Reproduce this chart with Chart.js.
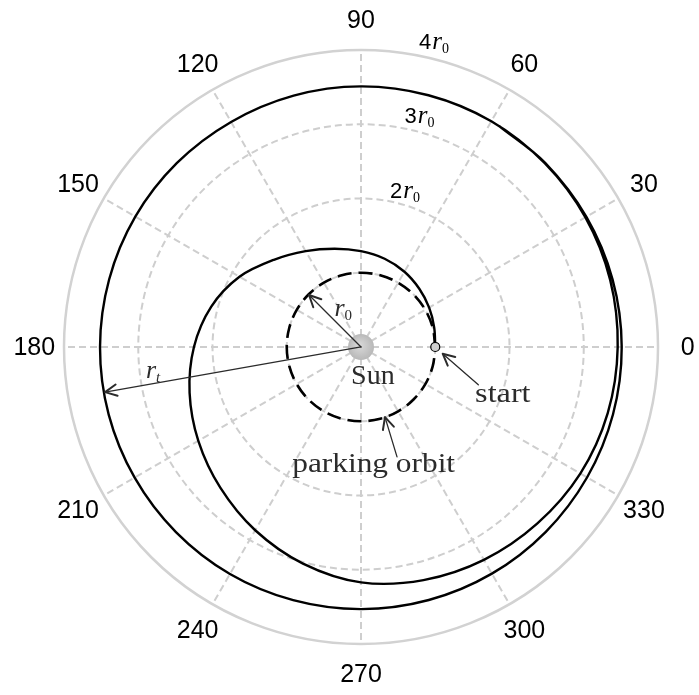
<!DOCTYPE html>
<html>
<head>
<meta charset="utf-8">
<script src="https://cdn.jsdelivr.net/npm/chart.js@4"></script>
<style>
  html, body { margin: 0; padding: 0; background: #ffffff; }
  canvas { display: block; }
</style>
</head>
<body>
<canvas id="orbit" width="699" height="695"></canvas>
<script>
// ---- data (angles in degrees, radii in units of the parking-orbit radius r0) ----

// Low-thrust transfer spiral, angle unwrapped over the revolutions
const trajTheta = [
  0, 15, 30, 45, 60, 75, 90, 105, 120, 135, 150, 165, 180,
  195, 210, 225, 240, 255, 270, 285, 300, 315, 330, 345, 360,
  375, 390, 405, 420, 435, 450, 465, 480, 495, 510, 525, 540,
  555, 570, 585, 600, 615, 630, 645, 660, 675, 690, 705, 720,
  735, 750, 765, 778
];
const trajR = [
  1.00, 1.02, 1.06, 1.11, 1.17, 1.23, 1.29, 1.37, 1.49, 1.66, 1.89, 2.09, 2.25,
  2.39, 2.53, 2.68, 2.85, 3.02, 3.17, 3.25, 3.31, 3.36, 3.41, 3.44, 3.457,
  3.475, 3.49, 3.50, 3.51, 3.51, 3.51, 3.505, 3.50, 3.505, 3.51, 3.512, 3.515,
  3.518, 3.52, 3.525, 3.53, 3.53, 3.53, 3.528, 3.525, 3.52, 3.515, 3.513, 3.511,
  3.508, 3.505, 3.507, 3.51
];

// Circular parking orbit
const parkTheta = [0, 15, 30, 45, 60, 75, 90, 105, 120, 135, 150, 165, 180,
  195, 210, 225, 240, 255, 270, 285, 300, 315, 330, 345, 360];
const parkR = [1, 1, 1, 1, 1, 1, 1, 1, 1, 1, 1, 1, 1,
  1, 1, 1, 1, 1, 1, 1, 1, 1, 1, 1, 1];

// Departure point and the Sun
const startTheta = [0];
const startR = [1];
const sunTheta = [0];
const sunR = [0];

// Polar frame: angular ticks and radial rings
const angleTicks = [0, 30, 60, 90, 120, 150, 180, 210, 240, 270, 300, 330];
const angleTickLabels = ['0', '30', '60', '90', '120', '150', '180', '210', '240', '270', '300', '330'];
const ringValues = [1, 2, 3];
const outerRing = 4;
const ringLabelValues = [2, 3, 4];
const ringLabelNumbers = ['2', '3', '4'];

// Radius of the final orbit and the direction along which it is marked
const transferR = 3.5;
const transferTheta = 190;

// ---- helpers ----
const rad = d => d * Math.PI / 180;
const toXY = (t, r) => ({ x: r * Math.cos(rad(t)), y: r * Math.sin(rad(t)) });
const polarPoints = (ts, rs) => ts.map((t, i) => toXY(t, rs[i]));

function px(chart, p) {
  return { x: chart.scales.x.getPixelForValue(p.x), y: chart.scales.y.getPixelForValue(p.y) };
}

function drawArrow(ctx, a, b, shaftW, headW, headLen, color) {
  const ang = Math.atan2(b.y - a.y, b.x - a.x);
  ctx.save();
  ctx.strokeStyle = color;
  ctx.lineCap = 'round';
  ctx.lineJoin = 'round';
  ctx.lineWidth = shaftW;
  ctx.beginPath();
  ctx.moveTo(a.x, a.y);
  ctx.lineTo(b.x, b.y);
  ctx.stroke();
  ctx.lineWidth = headW;
  const spread = rad(26);
  ctx.beginPath();
  ctx.moveTo(b.x - headLen * Math.cos(ang - spread), b.y - headLen * Math.sin(ang - spread));
  ctx.lineTo(b.x, b.y);
  ctx.lineTo(b.x - headLen * Math.cos(ang + spread), b.y - headLen * Math.sin(ang + spread));
  ctx.stroke();
  ctx.restore();
}

// italic r with a subscript, centred on (x, y)
function drawRSymbol(ctx, x, y, sub, color) {
  ctx.save();
  ctx.fillStyle = color;
  ctx.textBaseline = 'alphabetic';
  const subFont = (sub === '0' ? '' : 'italic ') + '15px "Liberation Serif"';
  ctx.font = 'italic 26px "Liberation Serif"';
  const wr = ctx.measureText('r').width;
  ctx.font = subFont;
  const ws = ctx.measureText(sub).width;
  const x0 = x - (wr + ws) / 2;
  ctx.font = 'italic 26px "Liberation Serif"';
  ctx.fillText('r', x0, y + 6);
  ctx.font = subFont;
  ctx.fillText(sub, x0 + wr, y + 10);
  ctx.restore();
}

// serif annotation text, widened slightly
function drawNote(ctx, text, x, y, sx, color) {
  ctx.save();
  ctx.fillStyle = color;
  ctx.font = '28px "Liberation Serif"';
  ctx.textAlign = 'center';
  ctx.textBaseline = 'middle';
  ctx.translate(x, y);
  ctx.scale(sx, 1);
  ctx.fillText(text, 0, 0);
  ctx.restore();
}

// ---- polar frame drawn beneath the curves ----
const polarFrame = {
  id: 'polarFrame',
  beforeDatasetsDraw(chart) {
    const ctx = chart.ctx;
    const c = px(chart, { x: 0, y: 0 });
    const unit = chart.scales.x.getPixelForValue(1) - c.x;
    ctx.save();
    ctx.strokeStyle = '#cecece';
    ctx.lineWidth = 2;
    ctx.setLineDash([7, 4]);
    ringValues.forEach(r => {
      ctx.beginPath();
      ctx.arc(c.x, c.y, r * unit, 0, 2 * Math.PI);
      ctx.stroke();
    });
    angleTicks.forEach(t => {
      const e = px(chart, toXY(t, outerRing));
      ctx.beginPath();
      ctx.moveTo(c.x, c.y);
      ctx.lineTo(e.x, e.y);
      ctx.stroke();
    });
    ctx.setLineDash([]);
    ctx.strokeStyle = '#d2d2d2';
    ctx.lineWidth = 2.5;
    ctx.beginPath();
    ctx.arc(c.x, c.y, outerRing * unit, 0, 2 * Math.PI);
    ctx.stroke();
    ctx.restore();
  },
  afterDatasetsDraw(chart) {
    const ctx = chart.ctx;
    const ink = '#2b2b2b';
    const o = px(chart, { x: 0, y: 0 });

    // angular tick labels
    ctx.save();
    ctx.fillStyle = '#000';
    ctx.font = '25px "Liberation Sans"';
    ctx.textAlign = 'center';
    ctx.textBaseline = 'middle';
    angleTicks.forEach((t, i) => {
      const p = px(chart, toXY(t, 4.40));
      ctx.fillText(angleTickLabels[i], p.x, p.y + 1);
    });
    ctx.restore();

    // radial ring labels: 2r0, 3r0, 4r0
    ringLabelValues.forEach((v, i) => {
      const p = px(chart, toXY(79, v * 1.02 + 0.01));
      ctx.save();
      ctx.fillStyle = '#000';
      ctx.textBaseline = 'alphabetic';
      ctx.font = '22px "Liberation Sans"';
      const wn = ctx.measureText(ringLabelNumbers[i]).width;
      ctx.fillText(ringLabelNumbers[i], p.x, p.y);
      ctx.font = 'italic 25px "Liberation Serif"';
      const wr = ctx.measureText('r').width;
      ctx.fillText('r', p.x + wn + 1, p.y);
      ctx.font = '14px "Liberation Serif"';
      ctx.fillText('0', p.x + wn + wr + 1, p.y + 4);
      ctx.restore();
    });

    // r0 arrow from the Sun to the parking orbit
    drawArrow(ctx, o, px(chart, toXY(135, 0.99)), 1.3, 2, 13, ink);
    const r0p = px(chart, { x: -0.24, y: 0.50 });
    drawRSymbol(ctx, r0p.x, r0p.y, '0', ink);

    // r_t arrow from the Sun to the final orbit
    drawArrow(ctx, o, px(chart, toXY(transferTheta, transferR)), 1.3, 2, 13, ink);
    const rtp = px(chart, { x: -2.80, y: -0.34 });
    drawRSymbol(ctx, rtp.x, rtp.y, 't', ink);

    // text annotations
    const sunP = px(chart, { x: 0.16, y: -0.40 });
    drawNote(ctx, 'Sun', sunP.x, sunP.y, 1.0, ink);
    const startP = px(chart, { x: 1.91, y: -0.64 });
    drawNote(ctx, 'start', startP.x, startP.y, 1.15, ink);
    const parkP = px(chart, { x: 0.17, y: -1.58 });
    drawNote(ctx, 'parking orbit', parkP.x, parkP.y, 1.12, ink);

    drawArrow(ctx, px(chart, { x: 1.58, y: -0.51 }), px(chart, { x: 1.10, y: -0.09 }), 1.3, 2, 13, ink);
    drawArrow(ctx, px(chart, { x: 0.485, y: -1.48 }), px(chart, { x: 0.323, y: -0.945 }), 1.3, 2, 13, ink);
  }
};

// ---- chart ----
const sunFill = (c) => {
  const chart = c.chart;
  if (!chart.chartArea || !chart.scales.x) return '#c4c4c4';
  const p = px(chart, { x: 0, y: 0 });
  const g = chart.ctx.createRadialGradient(p.x - 2, p.y - 2, 1, p.x, p.y, 13);
  g.addColorStop(0, '#d8d8d8');
  g.addColorStop(1, '#b8b8b8');
  return g;
};

new Chart(document.getElementById('orbit'), {
  type: 'scatter',
  data: {
    datasets: [
      {
        label: 'Sun',
        data: polarPoints(sunTheta, sunR),
        pointRadius: 13,
        pointBackgroundColor: sunFill,
        pointBorderWidth: 0,
        borderColor: 'rgba(0,0,0,0)',
        order: 0
      },
      {
        label: 'start',
        data: polarPoints(startTheta, startR),
        pointRadius: 4.5,
        pointBackgroundColor: '#cfcfcf',
        pointBorderColor: '#000',
        pointBorderWidth: 1.2,
        order: 1
      },
      {
        label: 'parking orbit',
        data: polarPoints(parkTheta, parkR),
        showLine: true,
        borderColor: '#000',
        borderWidth: 2.6,
        borderDash: [14, 7],
        tension: 0.34,
        pointRadius: 0,
        order: 2
      },
      {
        label: 'trajectory',
        data: polarPoints(trajTheta, trajR),
        showLine: true,
        borderColor: '#000',
        borderWidth: 2.4,
        tension: 0.34,
        pointRadius: 0,
        order: 3
      }
    ]
  },
  options: {
    responsive: false,
    animation: false,
    devicePixelRatio: 1,
    events: [],
    layout: { padding: 0, autoPadding: false },
    plugins: { legend: { display: false }, tooltip: { enabled: false } },
    scales: {
      x: { type: 'linear', min: -4.862, max: 4.552, display: false },
      y: { type: 'linear', min: -4.687, max: 4.673, display: false }
    }
  },
  plugins: [polarFrame]
});
</script>
</body>
</html>
